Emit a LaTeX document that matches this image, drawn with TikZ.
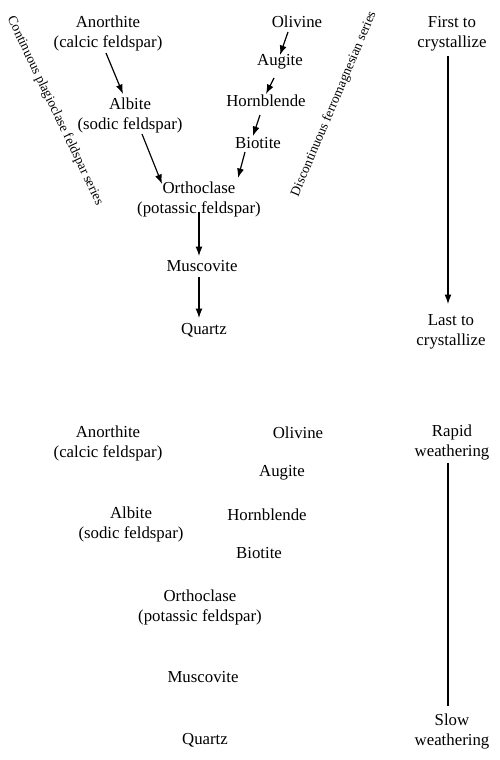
\documentclass[tikz,border=0pt]{standalone}
\usepackage{fontspec}
\setmainfont{Liberation Serif}
\usetikzlibrary{arrows.meta,calc}
\begin{document}
\begin{tikzpicture}[x=1pt,y=-1pt,
  lbl/.style={inner sep=0pt,align=center,font=\fontsize{16.8}{20}\selectfont},
  series/.style={inner sep=0pt,font=\fontsize{13.5}{15}\selectfont},
  arr/.style={line width=1.2pt,-{Latex[length=9.5pt,width=7pt]}},
  bar/.style={line width=1.2pt}]
\useasboundingbox (0,0) rectangle (500,760);
% top diagram
\node[lbl] (anor) at (108,33) {Anorthite\\(calcic feldspar)};
\node[lbl] (alb) at (130,115) {Albite\\(sodic feldspar)};
\node[lbl] (ortho) at (199,199) {Orthoclase\\(potassic feldspar)};
\node[lbl] (musc) at (202,266) {Muscovite};
\node[lbl] (qtz) at (204,330) {Quartz};
\node[lbl] (oliv) at (297,22) {Olivine};
\node[lbl] (aug) at (280,62) {Augite};
\node[lbl] (horn) at (266,101) {Hornblende};
\node[lbl] (bio) at (258,143) {Biotite};
\node[lbl] (first) at (452,34) {First to\\crystallize};
\node[lbl] (last) at (451,332) {Last to\\crystallize};
\node[series,rotate=-64.5] (cont) at (55,111) {Continuous plagioclase feldspar series};
\node[series,rotate=67] (disc) at (334,104) {Discontinuous ferromagnesian series};
\draw[arr] ($(anor)+(-2,20)$) -- ($(alb)+(-7,-21)$);
\draw[arr] ($(alb)+(12,19)$) -- ($(ortho)+(-37,-15)$);
\draw[arr] ($(oliv)+(-9,10)$) -- ($(aug)+(0,-7)$);
\draw[arr] ($(aug)+(-6,16)$) -- ($(horn)+(0,-7)$);
\draw[arr] ($(horn)+(-6,14)$) -- ($(bio)+(-5,-7)$);
\draw[arr] ($(bio)+(-13,9)$) -- ($(ortho)+(39,-21)$);
\draw[arr] ($(ortho)+(0,13)$) -- ($(musc)+(-3,-10)$);
\draw[arr] ($(musc)+(-3,11)$) -- ($(qtz)+(-5,-12)$);
\draw[arr] ($(first)+(-4,22)$) -- ($(last)+(-3,-28)$);
% bottom diagram
\node[lbl] (anor2) at (108,443) {Anorthite\\(calcic feldspar)};
\node[lbl] (oliv2) at (298,433) {Olivine};
\node[lbl] (aug2) at (282,473) {Augite};
\node[lbl] (alb2) at (131,524) {Albite\\(sodic feldspar)};
\node[lbl] (horn2) at (267,515) {Hornblende};
\node[lbl] (bio2) at (259,553) {Biotite};
\node[lbl] (ortho2) at (200,607) {Orthoclase\\(potassic feldspar)};
\node[lbl] (musc2) at (203,677) {Muscovite};
\node[lbl] (qtz2) at (205,740) {Quartz};
\node[lbl] (rapid) at (452,442) {Rapid\\weathering};
\node[lbl] (slow) at (452,731) {Slow\\weathering};
\draw[bar] ($(rapid)+(-4,21)$) -- ($(slow)+(-4,-25)$);
\end{tikzpicture}
\end{document}
